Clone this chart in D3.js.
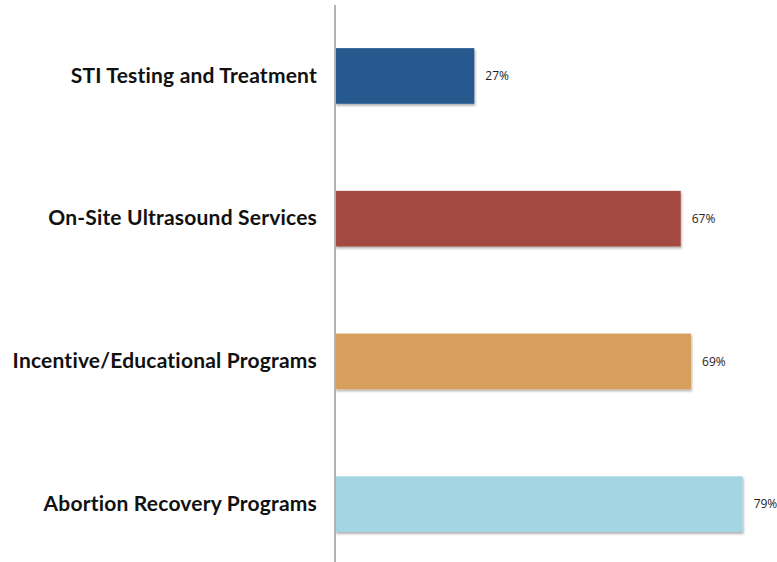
<!DOCTYPE html>
<html lang="en">
<head>
<meta charset="utf-8">
<script src="https://d3js.org/d3.v7.min.js"></script>
<style>
  body { margin: 0; background: #fff; }
</style>
</head>
<body>
<script>
// chart data
const categories = ["STI Testing and Treatment", "On-Site Ultrasound Services", "Incentive/Educational Programs", "Abortion Recovery Programs"];
const values = [0.27, 0.67, 0.69, 0.79];
const colors = ["#275a8f", "#a34a42", "#d89e5b", "#a3d6e2"];

const width = 777, height = 562;
const x0 = 335;

const svg = d3.select("body").append("svg")
  .attr("width", width)
  .attr("height", height);

// soft shadow under bars
const defs = svg.append("defs");
const f = defs.append("filter").attr("id", "shadow")
  .attr("x", "-5%").attr("y", "-10%").attr("width", "115%").attr("height", "130%");
f.append("feDropShadow").attr("dx", 1).attr("dy", 2).attr("stdDeviation", 1.2)
  .attr("flood-color", "#000").attr("flood-opacity", 0.3);

const x = d3.scaleLinear().domain([0, 1]).range([x0, x0 + 516]);
const y = d3.scaleBand().domain(categories).range([4.6, 575.5])
  .paddingInner(0.61).paddingOuter(0.305);

// bars
svg.selectAll("rect.bar").data(categories).join("rect")
  .attr("class", "bar")
  .attr("x", x(0))
  .attr("y", d => y(d))
  .attr("width", (d, i) => x(values[i]) - x(0))
  .attr("height", y.bandwidth())
  .attr("fill", (d, i) => colors[i])
  .attr("filter", "url(#shadow)");

// value labels
svg.selectAll("text.val").data(categories).join("text")
  .attr("class", "val")
  .attr("x", (d, i) => x(values[i]) + 11)
  .attr("y", d => y(d) + y.bandwidth() / 2)
  .attr("dy", "0.35em")
  .attr("font-family", "Open Sans, sans-serif")
  .attr("font-size", 12)
  .attr("fill", "#222")
  .text((d, i) => d3.format(".0%")(values[i]));

// category axis
const axis = svg.append("g")
  .attr("transform", `translate(${x0},0)`)
  .call(d3.axisLeft(y).tickSize(0).tickPadding(18));
axis.select(".domain").attr("d", `M0,5V${height}`)
  .attr("stroke", "#b3b3b3").attr("stroke-width", 2);
axis.selectAll(".tick text")
  .attr("font-family", "Lato, sans-serif")
  .attr("font-weight", "bold")
  .attr("font-size", 21)
  .attr("letter-spacing", 0.2)
  .attr("fill", "#111");
</script>
</body>
</html>
